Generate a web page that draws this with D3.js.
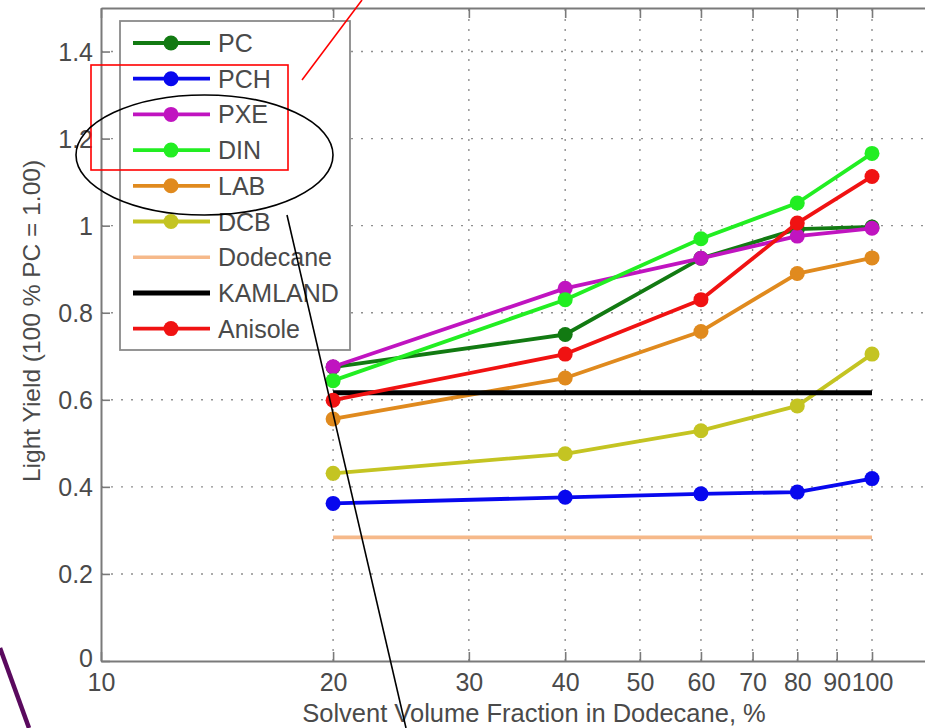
<!DOCTYPE html>
<html>
<head>
<meta charset="utf-8">
<script src="https://cdn.jsdelivr.net/npm/d3@7"></script>
<style>
  html, body { margin: 0; padding: 0; background: #fff; overflow: hidden; }
  svg { display: block; font-family: "Liberation Sans", Arial, Helvetica, sans-serif; }
</style>
</head>
<body>
<svg id="chart" width="925" height="728"></svg>
<script>
// ---------------- data ----------------
const xTickValues = [10, 20, 30, 40, 50, 60, 70, 80, 90, 100];
const yTickValues = [0, 0.2, 0.4, 0.6, 0.8, 1.0, 1.2, 1.4];
const yTickLabels = ["0", "0.2", "0.4", "0.6", "0.8", "1", "1.2", "1.4"];
const fractions = [20, 40, 60, 80, 100];

const pcValues       = [0.675, 0.750, 0.925, 0.992, 0.997];
const pchValues      = [0.362, 0.376, 0.384, 0.388, 0.419];
const pxeValues      = [0.676, 0.856, 0.925, 0.976, 0.994];
const dinValues      = [0.644, 0.830, 0.970, 1.052, 1.166];
const labValues      = [0.556, 0.650, 0.757, 0.890, 0.926];
const dcbValues      = [0.431, 0.476, 0.529, 0.586, 0.705];
const dodecaneValues = [0.284, 0.284, 0.284, 0.284, 0.284];
const kamlandValues  = [0.616, 0.616, 0.616, 0.616, 0.616];
const anisoleValues  = [0.599, 0.705, 0.830, 1.006, 1.113];

const seriesNames = ["PC", "PCH", "PXE", "DIN", "LAB", "DCB", "Dodecane", "KAMLAND", "Anisole"];
const seriesValues = [pcValues, pchValues, pxeValues, dinValues, labValues, dcbValues, dodecaneValues, kamlandValues, anisoleValues];
const seriesColors = ["#127a12", "#0808ee", "#c014c0", "#22ee22", "#e08a1e", "#c4c422", "#f6b98a", "#000000", "#f01212"];
const seriesMarkers = [true, true, true, true, true, true, false, false, true];
const seriesWidths = [3.8, 3.8, 3.8, 3.8, 3.8, 3.8, 3.6, 5, 3.8];

const xLabel = "Solvent Volume Fraction in Dodecane, %";
const yLabel = "Light Yield (100 % PC = 1.00)";

// ---------------- layout ----------------
const svg = d3.select("#chart");
const plotLeft = 101, plotBottom = 661, plotTop = 8;
const x = d3.scaleLog().domain([10, 120]).range([plotLeft, plotLeft + 771 * Math.log10(12)]);
const y = d3.scaleLinear().domain([0, 1.5]).range([plotBottom, plotTop]);
const plotRight = x.range()[1];

const gridColor = "#8f8f8f";
const axisColor = "#7a7a7a";
const textColor = "#4a4a4a";
const fontSize = "25px";

// grid
const grid = svg.append("g");
grid.selectAll("line.vg").data(xTickValues.slice(1)).join("line")
  .attr("x1", d => x(d)).attr("x2", d => x(d))
  .attr("y1", plotBottom).attr("y2", plotTop)
  .attr("stroke", gridColor).attr("stroke-width", 1.4).attr("stroke-dasharray", "2,8");
grid.selectAll("line.hg").data(yTickValues.slice(1)).join("line")
  .attr("x1", plotLeft).attr("x2", plotRight)
  .attr("y1", d => y(d)).attr("y2", d => y(d))
  .attr("stroke", gridColor).attr("stroke-width", 1.4).attr("stroke-dasharray", "2,8");

// axes
const fmtX = d => String(d);
const xAxisBottom = d3.axisBottom(x).tickValues(xTickValues).tickFormat(fmtX).tickSizeInner(-9).tickSizeOuter(0).tickPadding(12);
const gxb = svg.append("g").attr("transform", `translate(0,${plotBottom})`).call(xAxisBottom);
const xAxisTop = d3.axisTop(x).tickValues(xTickValues).tickFormat("").tickSizeInner(-10).tickSizeOuter(0);
const gxt = svg.append("g").attr("transform", `translate(0,${plotTop})`).call(xAxisTop);
const yAxisLeft = d3.axisLeft(y).tickValues(yTickValues).tickFormat((d, i) => yTickLabels[i]).tickSizeInner(-9).tickSizeOuter(0).tickPadding(8);
const gyl = svg.append("g").attr("transform", `translate(${plotLeft},0)`).call(yAxisLeft);

[gxb, gxt, gyl].forEach(g => {
  g.select(".domain").attr("stroke", axisColor).attr("stroke-width", 2);
  g.selectAll(".tick line").attr("stroke", axisColor).attr("stroke-width", 1.6);
  g.selectAll(".tick text").attr("fill", textColor).style("font-size", fontSize)
    .style("font-family", '"Liberation Sans", Arial, sans-serif');
});
gxb.selectAll(".tick text").attr("dy", "0.71em");
gyl.selectAll(".tick text").attr("dy", d => d === 0 ? "0.2em" : "0.36em");

// axis labels
svg.append("text").attr("x", 534).attr("y", 722).attr("text-anchor", "middle")
  .attr("fill", textColor).style("font-size", "25.5px").text(xLabel);
svg.append("text").attr("transform", "translate(40,321) rotate(-90)").attr("text-anchor", "middle")
  .attr("fill", textColor).style("font-size", "24.5px").text(yLabel);

// series
const line = d3.line().x((d, i) => x(fractions[i])).y(d => y(d));
seriesNames.forEach((name, s) => {
  const g = svg.append("g");
  g.append("path").datum(seriesValues[s]).attr("d", line)
    .attr("fill", "none").attr("stroke", seriesColors[s]).attr("stroke-width", seriesWidths[s])
    .attr("stroke-linejoin", "round");
  if (seriesMarkers[s]) {
    g.selectAll("circle").data(seriesValues[s]).join("circle")
      .attr("cx", (d, i) => x(fractions[i])).attr("cy", d => y(d)).attr("r", 7.5)
      .attr("fill", seriesColors[s]);
  }
});

// legend
const lg = svg.append("g");
lg.append("rect").attr("x", 120).attr("y", 21).attr("width", 230).attr("height", 329)
  .attr("fill", "#fff").attr("stroke", "#8a8a8a").attr("stroke-width", 1.8);
seriesNames.forEach((name, s) => {
  const ly = 43 + s * 35.7;
  lg.append("line").attr("x1", 133).attr("x2", 210).attr("y1", ly).attr("y2", ly)
    .attr("stroke", seriesColors[s]).attr("stroke-width", seriesWidths[s]);
  if (seriesMarkers[s]) {
    lg.append("circle").attr("cx", 171).attr("cy", ly).attr("r", 7.5).attr("fill", seriesColors[s]);
  }
  lg.append("text").attr("x", 218).attr("y", ly).attr("dy", "0.36em")
    .attr("fill", textColor).style("font-size", fontSize).text(name);
});

// annotations drawn over the figure
const ann = svg.append("g").attr("fill", "none");
ann.append("rect").attr("x", 91).attr("y", 65).attr("width", 197).attr("height", 105)
  .attr("stroke", "#ff0000").attr("stroke-width", 1.6);
ann.append("line").attr("x1", 302).attr("y1", 80).attr("x2", 362).attr("y2", 0)
  .attr("stroke", "#ff0000").attr("stroke-width", 1.6);
ann.append("ellipse").attr("cx", 204.5).attr("cy", 155).attr("rx", 128.5).attr("ry", 60)
  .attr("stroke", "#000").attr("stroke-width", 1.6);
ann.append("line").attr("x1", 287).attr("y1", 215).attr("x2", 406).attr("y2", 728)
  .attr("stroke", "#000").attr("stroke-width", 1.6);
ann.append("line").attr("x1", 0).attr("y1", 648).attr("x2", 29).attr("y2", 728)
  .attr("stroke", "#5a0a5e").attr("stroke-width", 4.5);
</script>
</body>
</html>
